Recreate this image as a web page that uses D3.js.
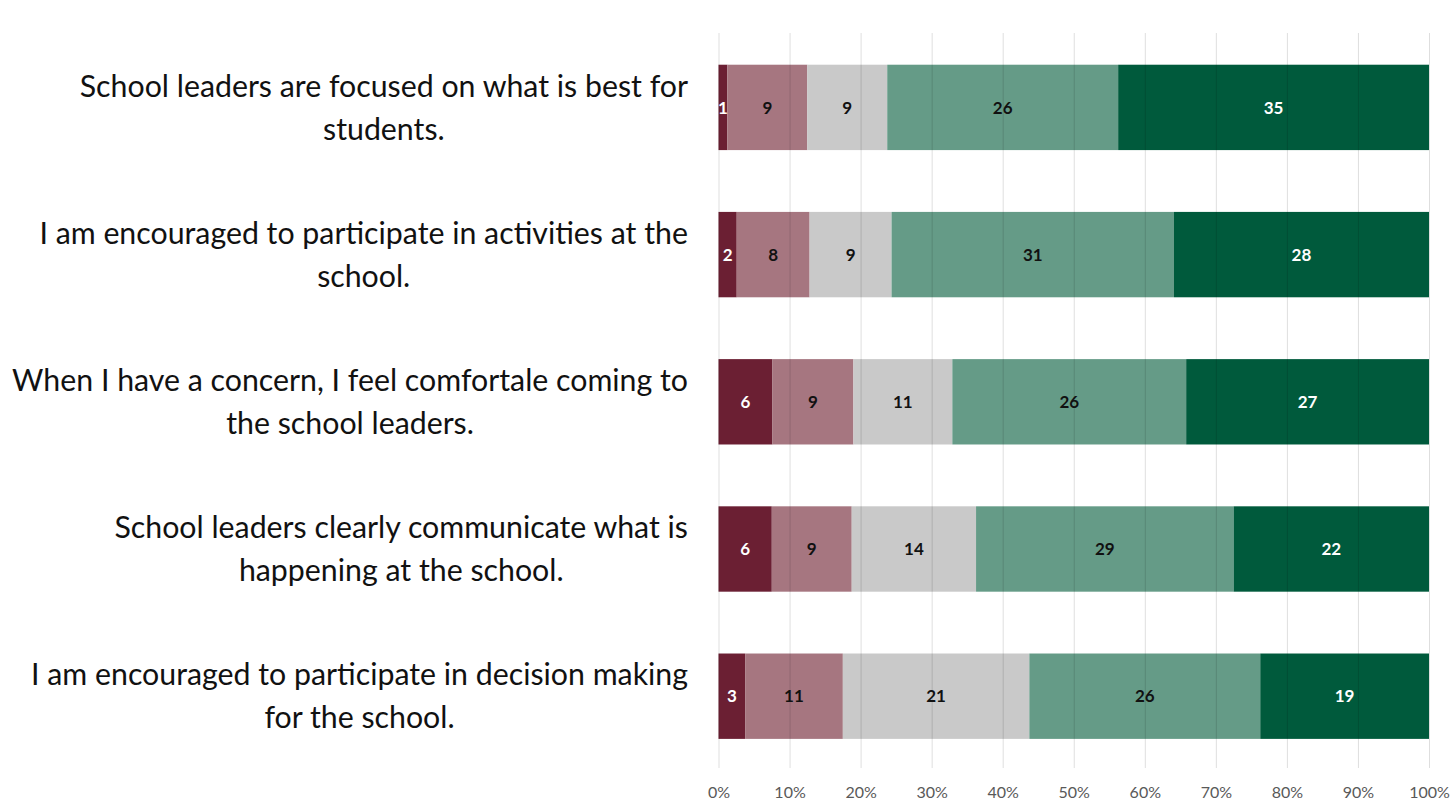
<!DOCTYPE html>
<html>
<head>
<meta charset="utf-8">
<script src="https://cdn.jsdelivr.net/npm/d3@7"></script>
<style>
  html, body { margin: 0; padding: 0; background: #fff; }
  svg { display: block; }
</style>
</head>
<body>
<svg id="chart" width="1454" height="804"></svg>
<script>
// Survey statements (each split into its two wrapped lines)
const statements = [
  ["School leaders are focused on what is best for", "students."],
  ["I am encouraged to participate in activities at the", "school."],
  ["When I have a concern, I feel comfortale coming to", "the school leaders."],
  ["School leaders clearly communicate what is", "happening at the school."],
  ["I am encouraged to participate in decision making", "for the school."]
];

// Response counts per level, strongly disagree -> strongly agree
const level1 = [1, 2, 6, 6, 3];
const level2 = [9, 8, 9, 9, 11];
const level3 = [9, 9, 11, 14, 21];
const level4 = [26, 31, 26, 29, 26];
const level5 = [35, 28, 27, 22, 19];

const levels = [level1, level2, level3, level4, level5];
const levelColors = ["#6b1f33", "#a67680", "#c9c9c9", "#659b87", "#005a3c"];
const labelColors = ["#ffffff", "#111111", "#111111", "#111111", "#ffffff"];

const tickValues = [0, 0.1, 0.2, 0.3, 0.4, 0.5, 0.6, 0.7, 0.8, 0.9, 1.0];

const svg = d3.select("#chart");

const plot = { left: 718.5, right: 1429, top: 33, bottom: 768 };

const x = d3.scaleLinear().domain([0, 1]).range([plot.left, plot.right]);
const y = d3.scaleBand()
  .domain(d3.range(statements.length))
  .range([plot.top + 0.8, plot.bottom + 1.8])
  .paddingInner(0.42)
  .paddingOuter(0.21);

// Build normalised stacks for each statement
const rows = statements.map((s, i) => {
  const vals = levels.map(l => l[i]);
  const total = d3.sum(vals);
  let acc = 0;
  return vals.map((v, k) => {
    const seg = { row: i, level: k, value: v, x0: acc / total, x1: (acc + v) / total };
    acc += v;
    return seg;
  });
});

const segs = rows.flat();

// Bars
svg.append("g").selectAll("rect")
  .data(segs)
  .join("rect")
  .attr("x", d => x(d.x0))
  .attr("y", d => y(d.row))
  .attr("width", d => x(d.x1) - x(d.x0))
  .attr("height", y.bandwidth())
  .attr("fill", d => levelColors[d.level]);

// Vertical gridlines drawn over the bars, semi-transparent
const xAxis = d3.axisBottom(x)
  .tickValues(tickValues)
  .tickFormat(d3.format(".0%"))
  .tickSize(-(plot.bottom - plot.top))
  .tickPadding(19);

const axisG = svg.append("g")
  .attr("transform", `translate(0,${plot.bottom})`)
  .call(xAxis);
axisG.select(".domain").remove();
axisG.selectAll(".tick line")
  .attr("stroke", "#000")
  .attr("stroke-opacity", 0.13)
  .attr("stroke-width", 1);
axisG.selectAll(".tick text")
  .attr("fill", "#595959")
  .style("font-family", "Lato, 'Open Sans', sans-serif")
  .style("font-size", "16px");

// Value labels inside segments
svg.append("g").selectAll("text")
  .data(segs)
  .join("text")
  .attr("x", d => (x(d.x0) + x(d.x1)) / 2)
  .attr("y", d => y(d.row) + y.bandwidth() / 2)
  .attr("dy", "0.36em")
  .attr("text-anchor", "middle")
  .attr("fill", d => labelColors[d.level])
  .style("font-family", "Lato, 'Open Sans', sans-serif")
  .style("font-weight", "bold")
  .style("font-size", "17px")
  .text(d => d.value);

// Category labels: two centred lines, block right-aligned to the plot
const labelRight = 688;
const lineGap = 43;
const catG = svg.append("g")
  .style("font-family", "Lato, 'Open Sans', sans-serif")
  .style("font-size", "30.3px")
  .attr("fill", "#111");

statements.forEach((lines, i) => {
  const cy = y(i) + y.bandwidth() / 2;
  const first = catG.append("text")
    .attr("x", labelRight)
    .attr("y", cy - lineGap / 2)
    .attr("dy", "0.35em")
    .attr("text-anchor", "end")
    .text(lines[0]);
  const w = first.node().getComputedTextLength();
  catG.append("text")
    .attr("x", labelRight - w / 2)
    .attr("y", cy + lineGap / 2)
    .attr("dy", "0.35em")
    .attr("text-anchor", "middle")
    .text(lines[1]);
});
</script>
</body>
</html>
